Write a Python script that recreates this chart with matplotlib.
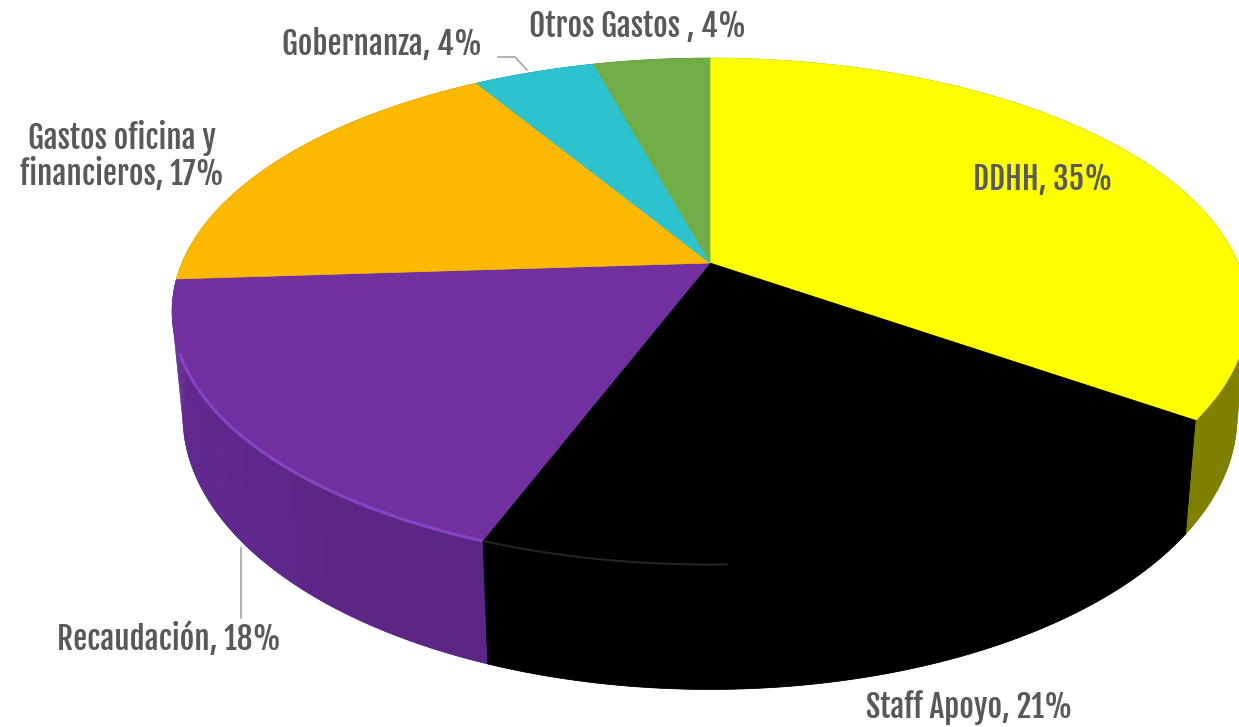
#!/usr/bin/env python3
"""3D-looking pie of spending shares, projected by hand since matplotlib has no 3D pie."""
import matplotlib
matplotlib.use("Agg")
import matplotlib.pyplot as plt
from matplotlib.collections import PolyCollection
from matplotlib.colors import to_rgb
import numpy as np

categories = ["DDHH", "Staff Apoyo", "Recaudación", "Gastos oficina y\nfinancieros", "Gobernanza", "Otros Gastos "]
shares = [34.7, 21.0, 18.2, 17.4, 4.4, 4.2]  # labels round these to whole percents
colors = ["#FFFF00", "#000000", "#7030A0", "#FDB900", "#2CC3CF", "#70AD47"]
wall_colors = ["#7F7F00", "#000000", "#5C2686", "#A87B00", "#1E8A92", "#4E7A32"]
label_xy = [(1043, 180), (969, 708), (169, 640), (122, 156), (382, 45), (638, 27)]

CX, CY = 710, 263      # apex of the slices on screen
A, B, K = 528, 244, 0.191   # radii and perspective strength
DEPTH = 101
INK = "#595959"

def rim(t, lift=0.0):
    # t clockwise from 12 o'clock; lift=1 gives the bottom edge of the cylinder
    w = 1 + K * np.cos(t)
    x = CX + A * np.sin(t) / w * (1 - 0.02 * lift)
    y = CY - B * np.cos(t) / w + lift * DEPTH / w
    return x, y

fig = plt.figure(figsize=(12.39, 7.27), dpi=100)
ax = fig.add_axes([0, 0, 1, 1])
ax.set_xlim(0, 1239); ax.set_ylim(727, 0); ax.axis("off")

edges = np.cumsum([0] + shares) / sum(shares) * 2 * np.pi

# side walls first, solid underlay then thin strips for the soft shading
for i in range(len(shares)):
    ts = np.linspace(edges[i], edges[i + 1], 80)
    base = np.array(to_rgb(wall_colors[i]))
    z = 1.5 if i >= 3 else 2  # back slices must not poke over the front ones
    xa, ya = rim(ts); xb, yb = rim(ts, 1)
    ax.fill(np.r_[xa, xb[::-1]], np.r_[ya, yb[::-1]], color=wall_colors[i], lw=0.5, zorder=z)
    quads, fills = [], []
    for t0, t1 in zip(ts[:-1], ts[1:]):
        x0, y0 = rim(t0); x1, y1 = rim(t1)
        x2, y2 = rim(t1, 1); x3, y3 = rim(t0, 1)
        quads.append([(x0, y0), (x1, y1), (x2, y2), (x3, y3)])
        shade = 1.0 + 0.22 * np.clip(np.sin(t0) * -1 - 0.6, 0, 1)
        fills.append(np.clip(base * shade, 0, 1))
    ax.add_collection(PolyCollection(quads, facecolors=fills, edgecolors="none", zorder=z + 0.2))

# top faces
for i in range(len(shares)):
    ts = np.linspace(edges[i], edges[i + 1], 120)
    x, y = rim(ts)
    ax.fill(np.r_[CX, x], np.r_[CY, y], color=colors[i], lw=0.5, zorder=3)

# bevel highlight along the front rim
for i, col, lw in [(2, "#8C45CC", 2.2), (1, "#2A2A2A", 1.4)]:
    ts = np.linspace(edges[i], edges[i + 1], 120)
    if i == 1:
        ts = ts[ts > np.radians(178)]
    else:
        ts = ts[ts < np.radians(250)]
    x, y = rim(ts)
    ax.plot(x, y, color=col, lw=lw, alpha=0.9, zorder=4, solid_capstyle="butt")

# leader lines
ax.plot([241, 241], [548, 618], color="#A6A6A6", lw=1.2, zorder=1)
ax.plot([498, 515, 527], [57, 57, 70], color="#A6A6A6", lw=1.2, zorder=1)

fam = ["Fjalla One", "Oswald", "Liberation Sans Narrow", "Liberation Sans", "DejaVu Sans"]
for name, share, (lx, ly) in zip(categories, shares, label_xy):
    ax.text(lx, ly, f"{name}, {share:.0f}%", ha="center", va="center", fontsize=22.5, color=INK, family=fam,
            linespacing=1.1, zorder=5)

fig.savefig("out.png", dpi=100, facecolor="white")
